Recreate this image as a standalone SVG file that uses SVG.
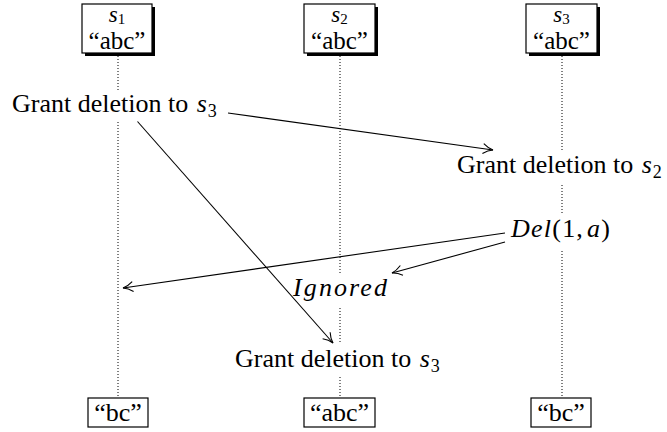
<svg xmlns="http://www.w3.org/2000/svg" width="667" height="432" viewBox="0 0 667 432">
<style>
  text { font-family: "Liberation Serif", "Times New Roman", serif; font-size: 26px; fill: #000; }
  .mi { font-style: italic; }
  .sub { font-size: 18px; }
  .hs { font-size: 23px; }
  .hsub { font-size: 15px; }
  .hv { font-size: 25px; }
  .box { fill: #fff; stroke: #000; stroke-width: 1.2; }
  .shadow { fill: #000; }
  .bg { fill: #fff; stroke: none; }
  .life { stroke: #000; stroke-width: 1; stroke-dasharray: 1 2; fill: none; }
  .edge { stroke: #000; stroke-width: 1.1; fill: none; }
</style>
<defs>
  <marker id="arr" viewBox="-11 -6 13 12" refX="0" refY="0" markerWidth="13" markerHeight="12" markerUnits="userSpaceOnUse" orient="auto">
    <path d="M -10,-5 C -6.5,-2.2 -2.8,-0.6 0,0 C -2.8,0.6 -6.5,2.2 -10,5" fill="none" stroke="#000" stroke-width="1.1"/>
  </marker>
</defs>
<rect width="667" height="432" fill="#fff"/>

<g id="lifelines">
  <line class="life" x1="118" y1="56" x2="118" y2="398"/>
  <line class="life" x1="340" y1="56" x2="340" y2="398"/>
  <line class="life" x1="562" y1="56" x2="562" y2="398"/>
</g>

<g id="s1-top">
  <rect class="shadow" x="85" y="7" width="70" height="49"/>
  <rect class="box" x="82" y="4" width="70" height="49"/>
  <text class="hs" x="117" y="22" text-anchor="middle"><tspan class="mi">s</tspan><tspan class="hsub" dy="2">1</tspan></text>
  <text class="hv" x="117" y="49" text-anchor="middle">“abc”</text>
</g>
<g id="s2-top">
  <rect class="shadow" x="307" y="7" width="71" height="49"/>
  <rect class="box" x="304" y="4" width="71" height="49"/>
  <text class="hs" x="339.5" y="22" text-anchor="middle"><tspan class="mi">s</tspan><tspan class="hsub" dy="2">2</tspan></text>
  <text class="hv" x="339.5" y="49" text-anchor="middle">“abc”</text>
</g>
<g id="s3-top">
  <rect class="shadow" x="529" y="7" width="71" height="49"/>
  <rect class="box" x="526" y="4" width="71" height="49"/>
  <text class="hs" x="561.5" y="22" text-anchor="middle"><tspan class="mi">s</tspan><tspan class="hsub" dy="2">3</tspan></text>
  <text class="hv" x="561.5" y="49" text-anchor="middle">“abc”</text>
</g>

<g id="grant-s3-a">
  <rect class="bg" x="6" y="90" width="220" height="31"/>
  <text x="12" y="112">Grant deletion to <tspan class="mi" dx="2">s</tspan><tspan class="sub" dx="1" dy="5">3</tspan></text>
</g>
<g id="grant-s2">
  <rect class="bg" x="452" y="151" width="215" height="32"/>
  <text x="457" y="173">Grant deletion to <tspan class="mi" dx="2">s</tspan><tspan class="sub" dx="1" dy="5">2</tspan></text>
</g>
<g id="del">
  <rect class="bg" x="505" y="213" width="112" height="38"/>
  <text x="511" y="237" textLength="99" lengthAdjust="spacing"><tspan class="mi">Del</tspan>(1,<tspan dx="3" class="mi">a</tspan>)</text>
</g>
<g id="ignored">
  <rect class="bg" x="288" y="273" width="104" height="34"/>
  <text class="mi" x="293" y="296" font-size="27" textLength="94" lengthAdjust="spacing">Ignored</text>
</g>
<g id="grant-s3-b">
  <rect class="bg" x="229" y="343" width="219" height="32"/>
  <text x="235" y="367">Grant deletion to <tspan class="mi" dx="2">s</tspan><tspan class="sub" dx="1" dy="5">3</tspan></text>
</g>

<g id="s1-bottom">
  <rect class="box" x="88" y="398" width="60" height="29"/>
  <text x="118" y="421" text-anchor="middle">“bc”</text>
</g>
<g id="s2-bottom">
  <rect class="box" x="304" y="398" width="71" height="29"/>
  <text x="339.5" y="421" text-anchor="middle">“abc”</text>
</g>
<g id="s3-bottom">
  <rect class="box" x="531" y="398" width="60" height="29"/>
  <text x="561" y="421" text-anchor="middle">“bc”</text>
</g>

<g id="connectors">
  <line class="edge" x1="228" y1="113" x2="493" y2="150" marker-end="url(#arr)"/>
  <line class="edge" x1="137.5" y1="121.5" x2="333" y2="343" marker-end="url(#arr)"/>
  <line class="edge" x1="505" y1="233" x2="123" y2="288" marker-end="url(#arr)"/>
  <line class="edge" x1="505" y1="242" x2="392" y2="273" marker-end="url(#arr)"/>
</g>
</svg>
